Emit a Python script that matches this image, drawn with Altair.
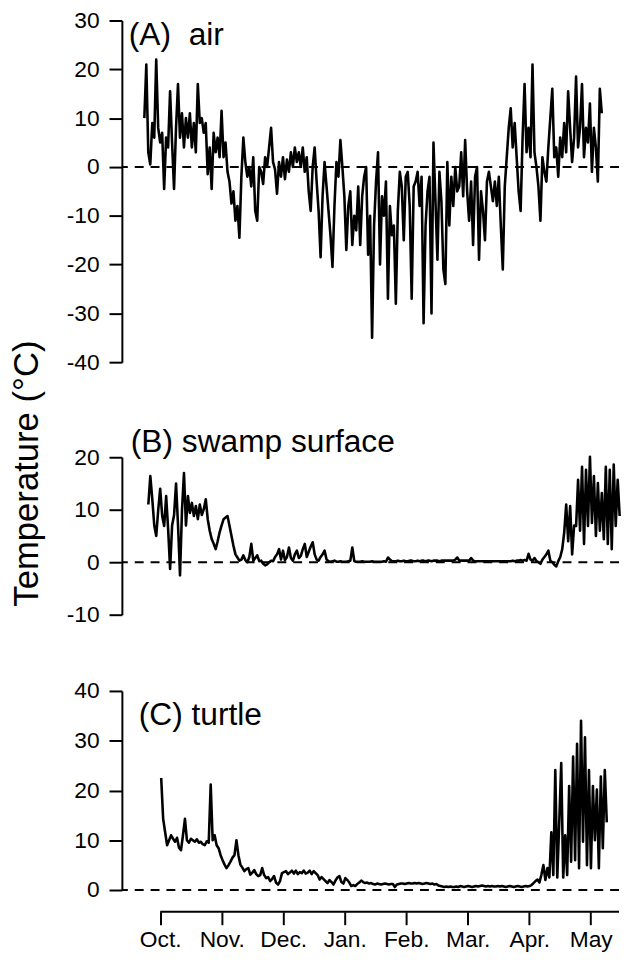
import altair as alt
import pandas as pd

MONTHS = ["Oct.", "Nov.", "Dec.", "Jan.", "Feb.", "Mar.", "Apr.", "May"]
LABELS = ["(A)\u00a0\u00a0air", "(B) swamp surface", "(C) turtle"]
TITLE = "Temperature (°C)"

# sampling: month index (0 = 1 Oct), regular logger interval
STEP = 0.0322
A_START, B_START, C_START = -0.258, -0.193, 0.016

air = [10, 21, 3, 0.5, 9, 6, 22, 8, 5, 7, -4.5, 6, 4, 15.5, 5, -4.5, 8, 17, 6, 11,
       4, 10, 6, 11, 4, 9, 3, 17, 9, 10, 7, 9, -1.5, 4, -4.5, 7, 3, 6, 2, 11.5,
       2, 5, -1, -3, -7.5, -5, -11, -8, -14.5, -2, 6, 1, -2, 0, -4, 2, -9, -11, 0, -1,
       -3.5, 2, 0, 4, 8, 1, -0.5, -5.5, 1, -2, 2, -2.5, 1.5, -1, 3, 0, 4, 1, 3, 0,
       4, -1, 2, -5, -9, 0, 4, -3, -9, -18.5, -6, 1, -4, -9, -14, -20.5, -8, 1, -2, 5.5,
       0, -6, -17, -8, -5, -16, -10, -13, -4, -16, -6, -2, 0, -18, -10, -35, -12, -3, 3, -20,
       -6, -10, -3, -27, -8, -14, -12, -28, -9, -1, -4, -15, -2, -1, -8, -27, -4, -3, -1, -8,
       -2, -32, -12, -5, -2, -30, 5, -7, -19, -1, -7, -21, -24, 1, -12, -2, -8, 0, -5, -4,
       3, -6, 5.5, -5, -11, -3, -16, -2, 0, -19, -5, -9, -15, -3, -1, -4, -7,
       -3, -8, -2, -12, -21, -4, 2, 8, 12, 4, 9, 2, -5, -9, 6, 17, 3, 8, 2, 21,
       3, 0, -4, -11, 2, -1, -3, 4, 10, 16, 2, 4, -2, 6, 2, 9, 3, 15.5, 8, 1,
       6, 18.5, 4, 8, 17, 2, 8, 5, 13, -1, 8, 4, -3, 16, 11]

swamp = [11, 16.4, 12, 7, 5, 10, 14, 8.8, 6.9, 12.6, 6.3, -1.3, 7, 9, 15, 7, -2.5, 10, 17, 7,
         12.6, 9.4, 11.3, 8.8, 10.7, 8.2, 11, 9, 10.1, 12, 8.2, 6, 4.4, 3.5, 2.5, 4, 5.7, 7, 8.2, 8.5,
         8.8, 6.9, 5, 3.1, 1.5, 0.9, 0.3, 0.5, 1.3, 0.4, 0, 1, 3.5, 0.3, 0.8, 1.3, 0.2, 0.3, -0.3, -0.6,
         -0.4, 0, 0.3, 0.2, 1, 1.5, 2.5, 0.5, 2.2, 0.4, 1, 2.8, 0.8, 0.3, 1.5, 2.2, 0.8, 1.2, 2.5, 3.5,
         1, 2, 3, 3.8, 1.5, 0.5, 0.3, 1, 1.5, 2.2, 0.5, 0.2, 0.1, 0.2, 0.3, 0.1, 0.1, 0.2, 0.1, 0.1,
         0.1, 0.2, 0.3, 2.8, 0.2, 0.1, 0.1, 0.1, 0.2, 0.1, 0.1, 0.1, 0.1, 0.2, 0.1, 0.1, 0.1, 0.1, 0.1, 0.2,
         0.1, 0.9, 0.5, 0.2, 0.2, 0.2, 0.3, 0.2, 0.2, 0.3, 0.2, 0.2, 0.3, 0.3, 0.2, 0.2, 0.3, 0.2, 0.3, 0.3,
         0.2, 0.3, 0.3, 0.2, 0.3, 0.3, 0.3, 0.2, 0.3, 0.3, 0.3, 0.3, 0.3, 0.3, 0.3, 0.5, 0.9, 0.3, 0.3, 0.3,
         0.3, 0.3, 0.3, 0.8, 0.3, 0.2, 0.2, 0.2, 0.2, 0.2, 0.2, 0.2, 0.2, 0.2, 0.2, 0.2, 0.2, 0.2, 0.2, 0.2,
         0.2, 0.2, 0.2, 0.2, 0.3, 0.2, 0.3, 0.3, 0.4, 0.3, 0.4, 0.3, 1.6, 0.5, 0.3, 0.8, 0.2, 0, -0.3, 0.5,
         1, 1.5, 2.2, 0.3, 0, -0.5, -0.8, 0.2, 1, 2.5, 5.7, 11, 4, 10.7, 1.5, 7, 6.9, 15.7, 6, 18.2,
         3.5, 17.6, 6.9, 20.1, 7.5, 16.4, 5, 15.1, 6, 13.2, 4.4, 18.2, 3.5, 17.6, 2.5, 18.6, 6.9, 15.7, 8.8]

turtle = [22.5, 14.3, 11.6, 9, 10, 11, 10.3, 9.7, 10.5, 8.5, 8, 11, 14.3, 10, 9.5, 10.3, 10, 9.7, 10.2, 9.5,
          9.7, 9.2, 9, 9.8, 9.5, 21.2, 10, 11, 9, 8.4, 7, 6, 5.1, 4.4, 5, 5.7, 6.5, 7, 10, 7,
          5.1, 4.5, 3.8, 4.2, 4.4, 3.1, 3.5, 4, 3.2, 2.8, 3, 4.4, 3, 2.4, 2.6, 1.8, 2.2, 2.8, 1.5, 1.1,
          1.8, 3.4, 3.6, 3.8, 3.2, 3.5, 3.9, 3.3, 3.9, 3.2, 3.6, 3.4, 3.9, 3.3, 3.5, 3.9, 3.2, 3.8, 3.4, 3,
          2.1, 2.6, 2.2, 1.8, 1.4, 2, 1.6, 1.1, 1.9, 2.5, 2.8, 1.6, 1.3, 2.4, 2, 1.5, 0.8, 1, 0.8, 1.2,
          1.5, 1.9, 1.6, 1.4, 1.5, 1.3, 1.4, 1.2, 1.1, 1.3, 1.2, 1.1, 1.2, 1.3, 1.2, 1.1, 1.2, 1.2, 0.6, 1.1,
          1.2, 1.3, 1.3, 1.2, 1.3, 1.4, 1.3, 1.3, 1.4, 1.3, 1.4, 1.3, 1.2, 1.3, 1.4, 1.3, 1.2, 1.3, 1.1, 1.2,
          0.9, 0.8, 0.7, 0.6, 0.7, 0.6, 0.7, 0.6, 0.6, 0.7, 0.6, 0.8, 0.7, 0.6, 0.7, 0.8, 0.7, 0.6, 0.7, 0.8,
          0.7, 0.8, 0.9, 0.8, 0.7, 0.8, 0.7, 0.8, 0.7, 0.7, 0.8, 0.7, 0.8, 0.7, 0.6, 0.7, 0.8, 0.7, 0.6, 0.7,
          0.8, 0.7, 0.6, 0.7, 0.8, 0.7, 0.8, 1, 1.4, 1.8, 2.1, 1.5, 3.1, 5, 2, 4.4, 2.5, 11.6, 3, 24.1,
          2.5, 13.6, 25.5, 2.5, 11, 3, 20.9, 5.7, 26.8, 6, 29.4, 4.4, 34, 9.7, 30.7, 5, 24.1, 4.4, 20.9, 10,
          20.2, 4.4, 22.8, 8.4, 24.1, 13.6]

X_DOMAIN = [-0.623, 7.46]
W = 502
FONT = "Liberation Sans"


def frame(start, vals):
    return pd.DataFrame({"m": [start + i * STEP for i in range(len(vals))], "t": vals})


def yaxis(ticks, title=None):
    kw = dict(values=ticks, tickSize=13, tickWidth=2, domainWidth=2, labelPadding=10,
              labelFontSize=23, labelFont=FONT, labelColor="black", grid=False,
              labelExpr="'' + datum.value", domainColor="black", tickColor="black")
    if title:
        kw.update(title=title, titleFontSize=35, titleFont=FONT, titleFontWeight="normal",
                  titleColor="black", titleAngle=270, titleX=-96, titleY=16,
                  titleAlign="center", titleBaseline="middle")
    else:
        kw.update(title=None)
    return alt.Axis(**kw)


def panel(start, vals, ydom, ticks, h, label, lx, ly, title=None, xaxis=False):
    data = frame(start, vals)
    if xaxis:
        lab = "[" + ",".join("'%s'" % m for m in MONTHS) + "][datum.value]"
        xa = alt.Axis(values=list(range(len(MONTHS))), labelExpr=lab, offset=22, domain=False,
                      tickSize=13, tickWidth=2, tickColor="black", labelPadding=4,
                      labelFontSize=23, labelFont=FONT, labelColor="black", grid=False,
                      labelOverlap=False, labelFlush=False, title=None)
    else:
        xa = None
    xs = alt.Scale(domain=X_DOMAIN, nice=False, zero=False)
    ys = alt.Scale(domain=ydom, nice=False, zero=False)
    zero = alt.Chart(pd.DataFrame({"z": [0]})).mark_rule(
        color="black", strokeWidth=2, strokeDash=[9, 7]).encode(y=alt.Y("z:Q", scale=ys, axis=yaxis(ticks, title)))
    line = alt.Chart(data).mark_line(color="black", strokeWidth=2.6, strokeJoin="round").encode(
        x=alt.X("m:Q", scale=xs, axis=xa), y=alt.Y("t:Q", scale=ys))
    txt = alt.Chart(pd.DataFrame({"s": [label]})).mark_text(
        align="left", baseline="alphabetic", fontSize=32, font=FONT, color="black").encode(
        text="s:N", x=alt.value(lx), y=alt.value(ly))
    layers = [zero, line, txt]
    if xaxis:
        dom = alt.Chart(pd.DataFrame({"a": [0], "b": [X_DOMAIN[1]]})).mark_rule(
            color="black", strokeWidth=2).encode(x=alt.X("a:Q", scale=xs), x2="b:Q", y=alt.value(h + 22))
        layers.append(dom)
    return alt.layer(*layers).properties(width=W, height=h)


def spacer(h):
    return alt.Chart(pd.DataFrame({"m": [0]})).mark_point(opacity=0).encode(
        x=alt.X("m:Q", axis=None), y=alt.Y("m:Q", axis=None)).properties(width=W, height=h)


pa = panel(A_START, air, [-40, 30], list(range(-40, 31, 10)), 345, LABELS[0], 7, 25)
pb = panel(B_START, swamp, [-10, 20], list(range(-10, 21, 10)), 159, LABELS[1], 9, -5, title=TITLE)
pc = panel(C_START, turtle, [0, 40], list(range(0, 41, 10)), 201, LABELS[2], 17, 34, xaxis=True)

chart = alt.vconcat(pa, spacer(36), pb, spacer(17), pc, spacing=30, bounds="flush").properties(
    padding={"left": 1, "top": -3, "right": 0, "bottom": 0}
).configure_view(strokeWidth=0)

chart.save("out.html", embed_options={"renderer": "svg", "actions": False})
